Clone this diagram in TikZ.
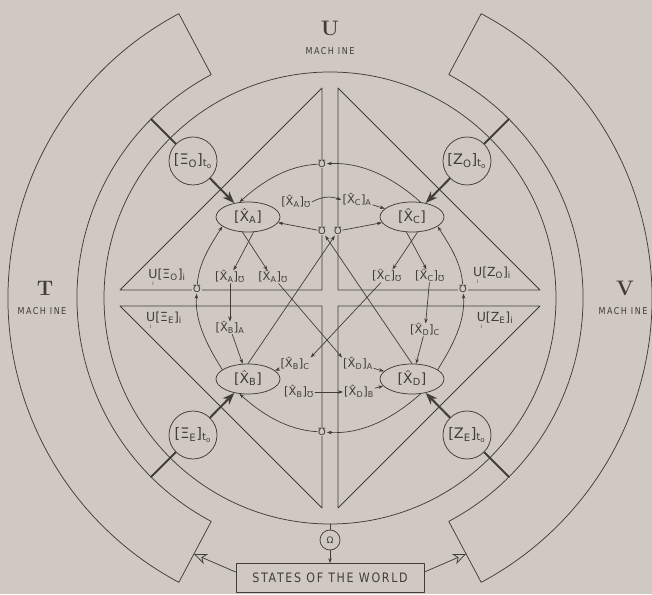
\documentclass[tikz,border=0pt]{standalone}
\usepackage{amsmath}
\usepackage{fontspec}
\usetikzlibrary{arrows.meta,shapes.geometric,calc}
\newfontfamily\lett{DejaVu Sans}
\newfontfamily\lettm[FakeStretch=0.85,LetterSpace=15]{DejaVu Sans}
\newfontfamily\letts[FakeStretch=0.85,LetterSpace=13]{DejaVu Sans}
\newfontfamily\symf{DejaVu Sans}
\definecolor{bg}{RGB}{207,201,194}
\definecolor{ink}{RGB}{66,61,57}
\newcommand{\mo}{{\symf ℧}}
\newcommand{\hatc}{\tikz[baseline=0pt]\draw[line width=0.45pt,line cap=round,line join=round,draw=ink] (0,0) -- (0.13em,0.12em) -- (0.26em,0);}
\newcommand{\Xh}{\ooalign{X\cr\hidewidth\raisebox{0.8em}{\hatc}\hidewidth\cr}}
\newcommand{\Xe}[1]{[\Xh\textsubscript{#1}]}
\newcommand{\Xs}[2]{[\Xh\textsubscript{#1}]\textsubscript{#2}}
\newcommand{\ui}{\ensuremath{\mathop{\hbox{\lett U}}\limits_{\hbox{\lett\tiny i}}}}
\newcommand{\fl}{\lett\fontsize{14}{14}\selectfont}
\newcommand{\fs}{\lett\fontsize{11.5}{12}\selectfont}
\newcommand{\fu}{\lett\fontsize{12.5}{13}\selectfont}
\newcommand{\fc}{\lett\fontsize{14.5}{15}\selectfont}
\begin{document}
\begin{tikzpicture}[x=1pt,y=1pt,line cap=round,line join=round]
\tikzset{
  ln/.style={draw=ink, line width=0.75pt},
  ell/.style={ellipse, draw=ink, line width=0.75pt, minimum width=64pt, minimum height=30pt, inner sep=0pt, font=\fl, text=ink},
  mhon/.style={inner sep=0.8pt, fill=bg, text=ink, font=\lett\fontsize{10}{10}\selectfont},
  lbl/.style={inner sep=1pt, font=\fs, text=ink},
  corner/.style={circle, draw=ink, line width=0.75pt, minimum size=48pt, inner sep=0pt, font=\fc, text=ink},
  arr/.style={draw=ink, line width=0.7pt, -{Stealth[length=5pt,width=3.5pt]}},
  carc/.style={arr, looseness=0.9},
  thk/.style={draw=ink, line width=2pt},
  tarr/.style={draw=ink, line width=2pt, -{Stealth[length=12pt,width=9pt]}},
  big/.style={font=\bfseries\fontsize{21}{21}\selectfont, text=ink},
  mach/.style={font=\lettm\fontsize{9.5}{10}\selectfont, text=ink},
}
\useasboundingbox[fill=bg] (0,0) rectangle (652,594);
\coordinate (C) at (330,296);

% outer blocks
\draw[ln] ($(C)+(62:322)$) arc[start angle=62,end angle=-62,radius=322]
  -- ($(C)+(-62:253)$) arc[start angle=-62,end angle=62,radius=253] -- cycle;
\draw[ln] ($(C)+(118:322)$) arc[start angle=118,end angle=242,radius=322]
  -- ($(C)+(242:253)$) arc[start angle=242,end angle=118,radius=253] -- cycle;

% inner ring
\draw[ln] (C) circle[radius=226];

% four triangles
\draw[ln] (120,304) -- (322,506) -- (322,304) -- cycle;
\draw[ln] (540,304) -- (338,506) -- (338,304) -- cycle;
\draw[ln] (120,288) -- (322,86) -- (322,288) -- cycle;
\draw[ln] (540,288) -- (338,86) -- (338,288) -- cycle;

% machine titles
\node[big] (tU) at (330,566) {U};
\node[mach] (mU) at (330,543) {MACH INE};
\node[big] (tT) at (45,306) {T};
\node[mach] (mT) at (42,283) {MACH INE};
\node[big] (tV) at (625,306) {V};
\node[mach] (mV) at (623,283) {MACH INE};

% ellipses
\node[ell,fill=bg] (A)  at (248,377) {\Xe{A}};
\node[ell,fill=bg] (Cx) at (412,377) {\Xe{C}};
\node[ell,fill=bg] (B)  at (248,215) {\Xe{B}};
\node[ell,fill=bg] (D)  at (412,215) {\Xe{D}};

% mho nodes
\node[mhon] (N)  at (322,430) {℧};
\node[mhon] (S)  at (322,162) {℧};
\node[mhon] (W)  at (197,305) {℧};
\node[mhon] (E)  at (463,305) {℧};
\node[mhon] (P1) at (322,363) {℧};
\node[mhon] (P2) at (338,363) {℧};

% corner circles
\node[corner,fill=bg] (Xo) at (193,433) {[Ξ\textsubscript{O}]\textsubscript{t\textsubscript{o}}};
\node[corner,fill=bg] (Zo) at (467,433) {[Z\textsubscript{O}]\textsubscript{t\textsubscript{o}}};
\node[corner,fill=bg] (XE) at (193,159) {[Ξ\textsubscript{E}]\textsubscript{t\textsubscript{o}}};
\node[corner,fill=bg] (ZE) at (467,159) {[Z\textsubscript{E}]\textsubscript{t\textsubscript{o}}};
\coordinate (kXo) at ($(C)+(135:253)$);
\coordinate (kZo) at ($(C)+(45:253)$);
\coordinate (kXE) at ($(C)+(225:253)$);
\coordinate (kZE) at ($(C)+(315:253)$);
\draw[thk] (Xo) -- (kXo);
\draw[thk] (Zo) -- (kZo);
\draw[thk] (XE) -- (kXE);
\draw[thk] (ZE) -- (kZE);
\draw[tarr] (Xo) -- (A);
\draw[tarr] (Zo) -- (Cx);
\draw[tarr] (XE) -- (B);
\draw[tarr] (ZE) -- (D);

% union labels
\node[lbl,font=\fu] (uXo) at (167,316) {\ui[Ξ\textsubscript{O}]\textsubscript{i}};
\node[lbl,font=\fu] (uXE) at (164,273) {\ui[Ξ\textsubscript{E}]\textsubscript{i}};
\node[lbl,font=\fu] (uZo) at (492,318) {\ui[Z\textsubscript{O}]\textsubscript{i}};
\node[lbl,font=\fu] (uZE) at (495,273) {\ui[Z\textsubscript{E}]\textsubscript{i}};

% small circle arcs
\draw[carc] (Cx.60) to[out=138,in=3] (N);
\draw[carc] (N) to[out=183,in=42] (A.120);
\draw[carc] (W) to[out=86,in=238] (A.200);
\draw[carc] (B.160) to[out=122,in=266] (W);
\draw[carc] (S) to[out=176.6,in=318] (B.240);
\draw[carc] (D.300) to[out=222,in=356.6] (S);
\draw[carc] (D.20) to[out=58,in=274] (E);
\draw[carc] (E) to[out=94,in=302] (Cx.340);

% inner labels
\node[lbl] (L1)  at (296,392) {\Xs{A}{\mo}};
\node[lbl] (L2)  at (357,394) {\Xs{C}{A}};
\node[lbl] (L3)  at (230,317) {\Xs{A}{\mo}};
\node[lbl] (L4)  at (273,317) {\Xs{A}{\mo}};
\node[lbl] (L5)  at (230,266) {\Xs{B}{A}};
\node[lbl] (L6)  at (358,230) {\Xs{D}{A}};
\node[lbl] (L7)  at (295,230) {\Xs{B}{C}};
\node[lbl] (L8)  at (387,318) {\Xs{C}{\mo}};
\node[lbl] (L9)  at (430,318) {\Xs{C}{\mo}};
\node[lbl] (L10) at (425,264) {\Xs{D}{C}};
\node[lbl] (L11) at (299,202) {\Xs{B}{\mo}};
\node[lbl] (L12) at (359,202) {\Xs{D}{B}};

% inner connectors
\draw[arr] (L1.east) to[bend left=25] (L2.west);
\draw[arr] (L2) -- (Cx);
\draw[arr] (P1) -- (A);
\draw[arr] (P2) -- (Cx);
\draw[arr] (B.north) -- (P2);
\draw[arr] (D.north) -- (P1);
\draw[arr] (A.290) -- (L3);
\draw[arr] (A.250) -- (L4.130);
\draw[arr] (Cx.250) -- (L9);
\draw[arr] (Cx.290) -- (L8.50);
\draw[arr] (L3) -- (L5);
\draw[arr] (L9) -- (L10);
\draw[arr] (L5) -- (B);
\draw[arr] (L10) -- (D);
\draw[arr] (L4) -- (L6.north west);
\draw[arr] (L8) -- (L7.north east);
\draw[arr] (L6) -- (D);
\draw[arr] (L7) -- (B);
\draw[arr] (L11) -- (L12);
\draw[arr] (L12) -- (D);

% Omega and states of the world
\node[circle, draw=ink, line width=0.75pt, minimum size=20pt, inner sep=0pt, text=ink, font=\lett\fontsize{9}{9}\selectfont] (Om) at (330,54) {Ω};
\coordinate (rb) at (330,70);
\draw[ln] (rb) -- (Om);
\node[draw=ink, line width=0.75pt, minimum width=188pt, minimum height=29pt, inner sep=0pt, font=\letts\fontsize{13}{13}\selectfont, text=ink] (box) at (330,16) {STATES OF THE WORLD};
\draw[arr] (Om) -- (box);
\coordinate (tl) at (194,40);
\coordinate (tr) at (466,40);
\draw[draw=ink, line width=0.75pt, -{Stealth[open,length=13pt,width=11pt,inset=4pt]}] ($(box.west)+(0,6)$) -- (tl);
\draw[draw=ink, line width=0.75pt, -{Stealth[open,length=13pt,width=11pt,inset=4pt]}] ($(box.east)+(0,6)$) -- (tr);
\end{tikzpicture}
\end{document}
